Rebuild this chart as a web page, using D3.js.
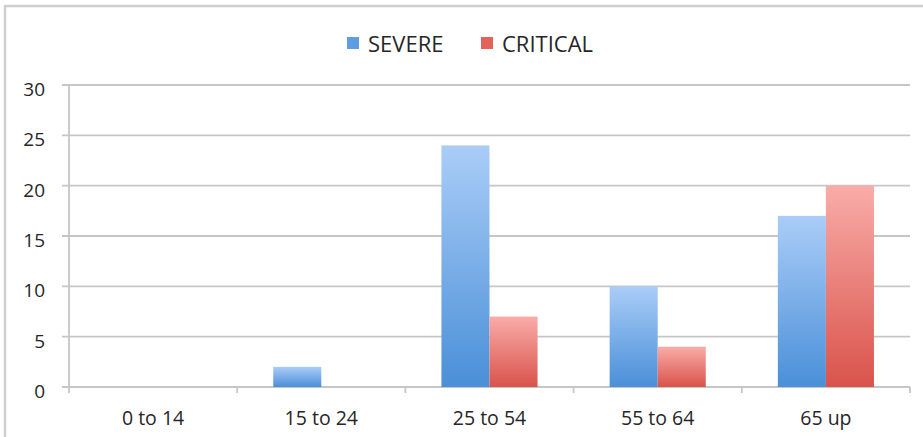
<!DOCTYPE html>
<html lang="en">
  <head>
    <meta charset="UTF-8" />
    <title>severe vs critical</title>
    <style type="text/css">
      body { margin: 0; background: #fff; }
      text { font-family: "Open Sans", "DejaVu Sans", sans-serif; fill: #262626; font-weight: 500; }
    </style>
  </head>
  <body>
    <div id="chart"></div>
    <script src="https://d3js.org/d3.v7.min.js"></script>
    <script>
      var categories = ["0 to 14", "15 to 24", "25 to 54", "55 to 64", "65 up"];
      var seriesNames = ["SEVERE", "CRITICAL"];
      var severe = [0, 2, 24, 10, 17];
      var critical = [0, 0, 7, 4, 20];
      var yTicks = [0, 5, 10, 15, 20, 25, 30];

      var W = 923, H = 437;
      var margin = { top: 85, right: 13, bottom: 50, left: 69 },
        width = W - margin.left - margin.right,
        height = H - margin.top - margin.bottom;

      var svg = d3
        .select("#chart")
        .append("svg")
        .attr("width", W)
        .attr("height", H);

      // gradients for the bars
      var defs = svg.append("defs");
      var grads = [
        { id: "gBlue", top: "#aacdf7", bottom: "#4a8fd8" },
        { id: "gRed", top: "#f9aca8", bottom: "#d9534b" }
      ];
      grads.forEach(function (g) {
        var lg = defs.append("linearGradient")
          .attr("id", g.id)
          .attr("x1", 0).attr("y1", 0).attr("x2", 0).attr("y2", 1);
        lg.append("stop").attr("offset", "0%").attr("stop-color", g.top);
        lg.append("stop").attr("offset", "100%").attr("stop-color", g.bottom);
      });

      // outer frame
      svg.append("path")
        .attr("d", "M5," + H + " V6 H" + W)
        .attr("fill", "none")
        .attr("stroke", "#cfcfcf")
        .attr("stroke-width", 2.5);

      var g = svg.append("g")
        .attr("transform", "translate(" + margin.left + "," + margin.top + ")");

      var x = d3.scaleBand().domain(categories).range([0, width]);
      var y = d3.scaleLinear().domain([0, 30]).range([height, 0]);

      // gridlines
      g.selectAll(".grid")
        .data(yTicks)
        .enter()
        .append("line")
        .attr("x1", -7)
        .attr("x2", width)
        .attr("y1", function (d) { return y(d); })
        .attr("y2", function (d) { return y(d); })
        .attr("stroke", "#c6c6c6")
        .attr("stroke-width", 1.8);

      // y axis line
      g.append("line")
        .attr("x1", 0).attr("x2", 0)
        .attr("y1", 0).attr("y2", height + 6)
        .attr("stroke", "#c6c6c6")
        .attr("stroke-width", 1.8);

      // category tick marks
      g.selectAll(".xtick")
        .data(categories)
        .enter()
        .append("line")
        .attr("x1", function (d) { return x(d) + x.bandwidth(); })
        .attr("x2", function (d) { return x(d) + x.bandwidth(); })
        .attr("y1", height)
        .attr("y2", height + 6)
        .attr("stroke", "#c6c6c6")
        .attr("stroke-width", 1.8);

      // y labels
      g.selectAll(".ylab")
        .data(yTicks)
        .enter()
        .append("text")
        .attr("x", -24)
        .attr("y", function (d) { return y(d) + 4; })
        .attr("dy", "0.36em")
        .attr("text-anchor", "end")
        .attr("font-size", "19px")
        .text(function (d) { return d; });

      // x labels
      g.selectAll(".xlab")
        .data(categories)
        .enter()
        .append("text")
        .attr("x", function (d) { return x(d) + x.bandwidth() / 2; })
        .attr("y", height + 38)
        .attr("text-anchor", "middle")
        .attr("font-size", "19.5px")
        .text(function (d) { return d; });

      // bars
      var inner = d3.scaleBand()
        .domain(seriesNames)
        .range([0, x.bandwidth()])
        .paddingInner(0)
        .paddingOuter(0.75);

      var rows = categories.map(function (c, i) {
        return { cat: c, vals: [severe[i], critical[i]] };
      });

      var fills = ["url(#gBlue)", "url(#gRed)"];

      rows.forEach(function (r) {
        r.vals.forEach(function (v, j) {
          if (v <= 0) return;
          g.append("rect")
            .attr("x", x(r.cat) + inner(seriesNames[j]))
            .attr("y", y(v))
            .attr("width", inner.bandwidth())
            .attr("height", height - y(v))
            .attr("fill", fills[j]);
        });
      });

      // legend
      var legend = svg.append("g").attr("transform", "translate(347,37)");
      var legendX = [0, 134];
      var legendCol = ["#5f9de2", "#e3625c"];
      seriesNames.forEach(function (s, i) {
        var lg = legend.append("g").attr("transform", "translate(" + legendX[i] + ",0)");
        lg.append("rect")
          .attr("width", 12).attr("height", 12)
          .attr("y", 0)
          .attr("fill", legendCol[i]);
        lg.append("text")
          .attr("x", 21)
          .attr("y", 7)
          .attr("dy", "0.36em")
          .attr("font-size", "22px")
          .text(s);
      });
    </script>
  </body>
</html>
